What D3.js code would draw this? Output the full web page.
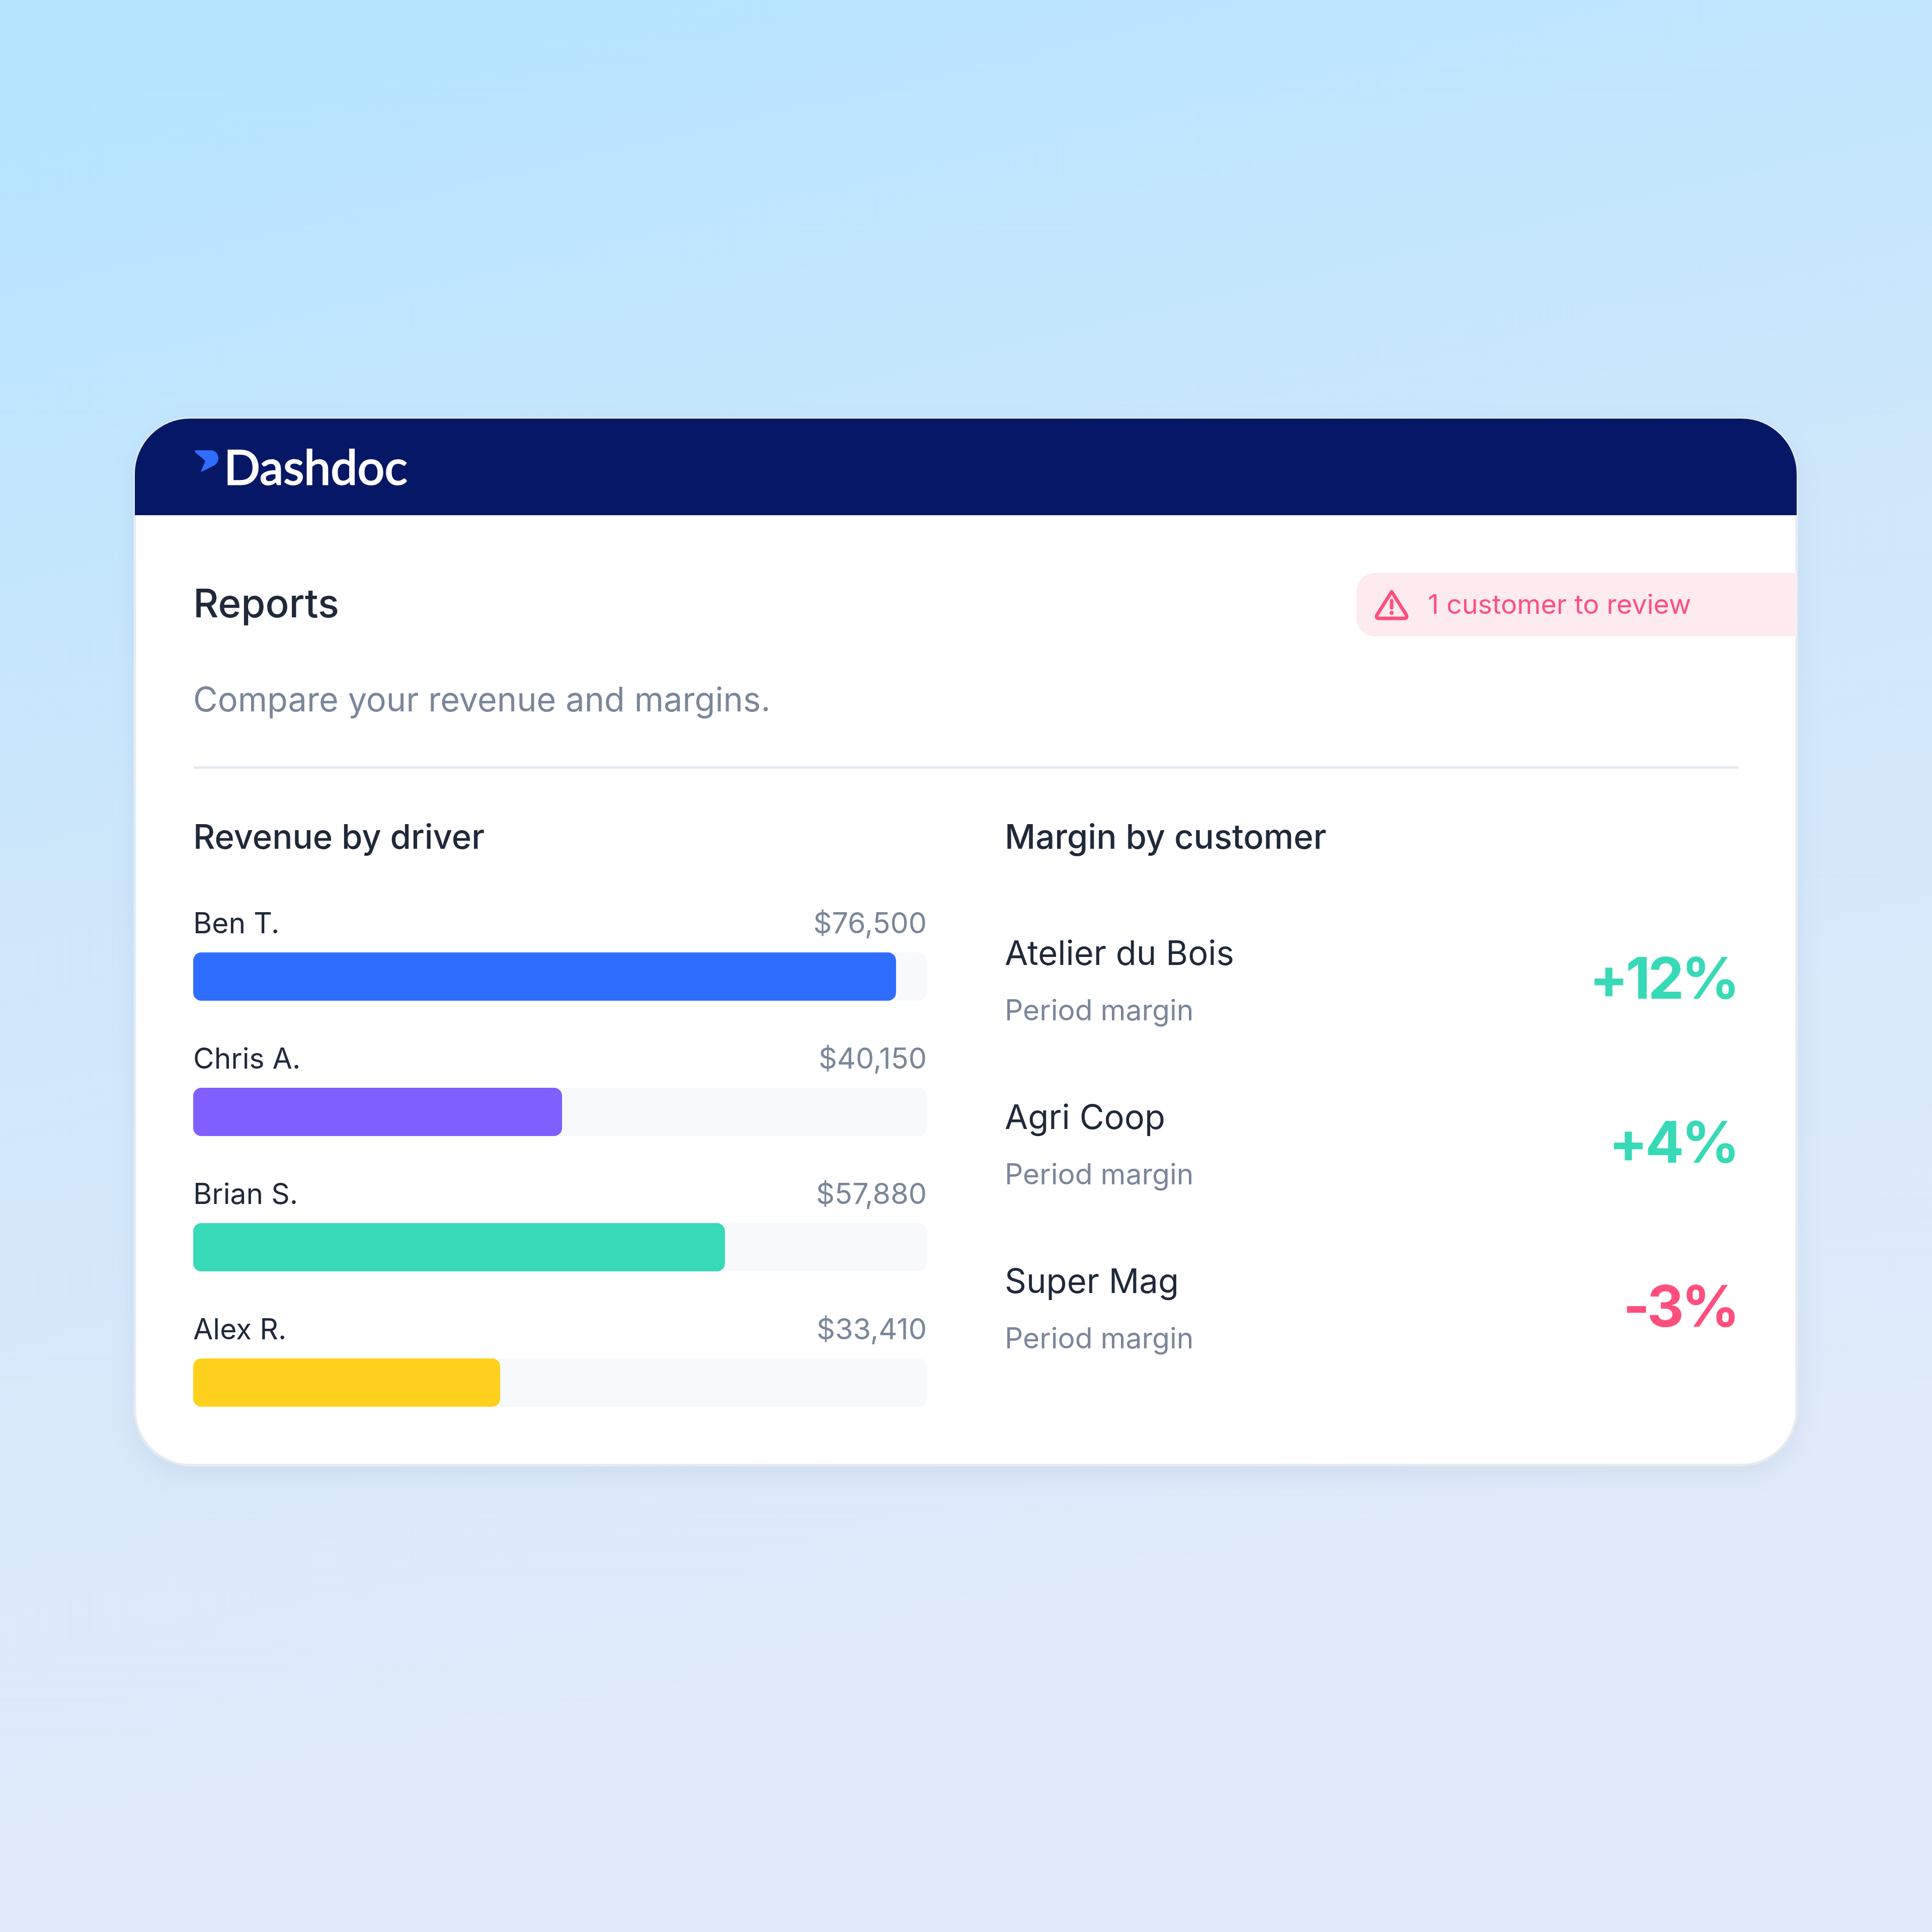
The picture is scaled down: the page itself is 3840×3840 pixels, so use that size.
<!DOCTYPE html>
<html lang="en">
  <head>
    <meta charset="UTF-8">
    <title>Dashdoc reports</title>
    <script src="https://d3js.org/d3.v7.min.js"></script>
    <style>
      html, body { margin: 0; padding: 0; background: #e1e9f8; }
      svg { display: block; }
      text { font-family: Inter, "Noto Sans", sans-serif; }
    </style>
  </head>
  <body>

<script>
  const drivers = ["Ben T.", "Chris A.", "Brian S.", "Alex R."];
  const revenue = [76500, 40150, 57880, 33410];
  const driverColors = ["#2f6dff", "#7f5fff", "#38d9b7", "#ffd01c"];
  const revenueMax = 79900;

  const customers = ["Atelier du Bois", "Agri Coop", "Super Mag"];
  const margins = [12, 4, -3];

  const w = 3840;
  const h = 3840;
  const card = { x: 268, y: 832, w: 3303, h: 2080, r: 110 };
  const ink = "#20293a";
  const grey = "#7a8699";
  const green = "#38d9b7";
  const pink = "#ff4f7e";

  const svg = d3.select("body")
                .append("svg")
                .attr("width", w)
                .attr("height", h);

  const defs = svg.append("defs");

  const bg = defs.append("linearGradient")
                 .attr("id", "bg")
                 .attr("gradientUnits", "userSpaceOnUse")
                 .attr("x1", 500).attr("y1", 0)
                 .attr("x2", 1300).attr("y2", 3400);
  bg.append("stop").attr("offset", 0).attr("stop-color", "#b4e4ff");
  bg.append("stop").attr("offset", 0.45).attr("stop-color", "#cde7fb");
  bg.append("stop").attr("offset", 1).attr("stop-color", "#e0eaf8");

  const shadow = defs.append("filter")
                     .attr("id", "shadow")
                     .attr("x", "-5%").attr("y", "-5%")
                     .attr("width", "110%").attr("height", "112%");
  shadow.append("feDropShadow")
        .attr("dx", 0).attr("dy", 16)
        .attr("stdDeviation", 22)
        .attr("flood-color", "#7f97c0")
        .attr("flood-opacity", 0.16);

  defs.append("clipPath")
      .attr("id", "cardClip")
      .append("rect")
      .attr("x", card.x).attr("y", card.y)
      .attr("width", card.w).attr("height", card.h)
      .attr("rx", card.r);

  svg.append("rect")
     .attr("width", w).attr("height", h)
     .attr("fill", "url(#bg)");

  svg.append("rect")
     .attr("x", card.x).attr("y", card.y)
     .attr("width", card.w).attr("height", card.h)
     .attr("rx", card.r)
     .attr("fill", "#fff")
     .attr("stroke", "#e6ebf2")
     .attr("stroke-width", 5)
     .attr("filter", "url(#shadow)");

  const inner = svg.append("g").attr("clip-path", "url(#cardClip)");

  // header
  inner.append("rect")
       .attr("x", card.x).attr("y", card.y)
       .attr("width", card.w).attr("height", 192)
       .attr("fill", "#061865");

  svg.append("path")
     .attr("d", "M389 895 L419 895 C429 895 434 903 434 911 C434 918 430 922 426 925 L402 937 C400 938 399 937 400 935 L408 916 L388 899 C386 897 387 895 389 895 Z")
     .attr("fill", "#2f6dff");

  svg.append("text")
     .attr("x", 445).attr("y", 963)
     .attr("font-size", 95)
     .attr("fill", "#fff")
     .attr("stroke", "#fff")
     .attr("stroke-width", 2.5)
     .style("font-family", "Lato, sans-serif")
     .text("Dashdoc");

  // title block
  svg.append("text")
     .attr("x", 384).attr("y", 1227)
     .attr("font-size", 78)
     .attr("font-weight", 500)
     .attr("fill", ink)
     .text("Reports");

  svg.append("text")
     .attr("x", 384).attr("y", 1414)
     .attr("font-size", 66.7)
     .attr("fill", grey)
     .text("Compare your revenue and margins.");

  // review badge
  inner.append("rect")
       .attr("x", 2696).attr("y", 1139)
       .attr("width", 960).attr("height", 126)
       .attr("rx", 36)
       .attr("fill", "#fdebf0");

  svg.append("path")
     .attr("d", "M2766 1176 L2795 1222 Q2798 1229 2791 1229 L2741 1229 Q2734 1229 2737 1222 Z")
     .attr("fill", "none")
     .attr("stroke", pink)
     .attr("stroke-width", 7)
     .attr("stroke-linejoin", "round");
  svg.append("line")
     .attr("x1", 2766).attr("x2", 2766)
     .attr("y1", 1194).attr("y2", 1208)
     .attr("stroke", pink)
     .attr("stroke-width", 7)
     .attr("stroke-linecap", "round");
  svg.append("circle")
     .attr("cx", 2766).attr("cy", 1218).attr("r", 4)
     .attr("fill", pink);

  svg.append("text")
     .attr("x", 2838).attr("y", 1220)
     .attr("font-size", 53.8)
     .attr("fill", pink)
     .text("1 customer to review");

  svg.append("line")
     .attr("x1", 385).attr("x2", 3456)
     .attr("y1", 1525.5).attr("y2", 1525.5)
     .attr("stroke", "#e4e9f0")
     .attr("stroke-width", 5);

  svg.append("text")
     .attr("x", 384).attr("y", 1687)
     .attr("font-size", 67)
     .attr("font-weight", 500)
     .attr("fill", ink)
     .text("Revenue by driver");

  svg.append("text")
     .attr("x", 1997).attr("y", 1687)
     .attr("font-size", 67)
     .attr("font-weight", 500)
     .attr("fill", ink)
     .text("Margin by customer");

  // revenue bars
  const xScale = d3.scaleLinear()
                   .domain([0, revenueMax])
                   .range([384, 1843]);

  const yScale = d3.scalePoint()
                   .domain(drivers)
                   .range([1893, 2700]);

  const barH = 96;
  const money = d3.format("$,");

  const rows = svg.selectAll("g.driver")
                  .data(drivers)
                  .enter()
                  .append("g")
                  .attr("class", "driver")
                  .attr("transform", (d) => `translate(0, ${yScale(d)})`);

  rows.append("rect")
      .attr("x", xScale(0))
      .attr("width", xScale(revenueMax) - xScale(0))
      .attr("height", barH)
      .attr("rx", 18)
      .attr("fill", "#f7f9fc");

  rows.append("rect")
      .attr("x", xScale(0))
      .attr("width", (d, i) => xScale(revenue[i]) - xScale(0))
      .attr("height", barH)
      .attr("rx", 16)
      .attr("fill", (d, i) => driverColors[i]);

  rows.append("text")
      .attr("x", xScale(0))
      .attr("y", -38)
      .attr("font-size", 57)
      .attr("fill", ink)
      .text((d) => d);

  rows.append("text")
      .attr("x", 1842)
      .attr("y", -38)
      .attr("text-anchor", "end")
      .attr("font-size", 57.5)
      .attr("fill", grey)
      .text((d, i) => money(revenue[i]));

  // margins
  const rowScale = d3.scalePoint()
                     .domain(customers)
                     .range([1917, 2569]);

  const custRows = svg.selectAll("g.customer")
                      .data(customers)
                      .enter()
                      .append("g")
                      .attr("class", "customer")
                      .attr("transform", (d) => `translate(0, ${rowScale(d)})`);

  custRows.append("text")
          .attr("x", 1997)
          .attr("y", 1)
          .attr("font-size", 67)
          .attr("fill", ink)
          .text((d) => d);

  custRows.append("text")
          .attr("x", 1997)
          .attr("y", 111)
          .attr("font-size", 57)
          .attr("fill", grey)
          .text("Period margin");

  custRows.append("text")
          .attr("x", 3453)
          .attr("y", 68)
          .attr("text-anchor", "end")
          .attr("font-size", 114)
          .attr("font-weight", 700)
          .attr("letter-spacing", -5)
          .attr("fill", (d, i) => margins[i] < 0 ? pink : green)
          .text((d, i) => (margins[i] > 0 ? "+" : "") + margins[i] + "%");
</script>

  </body>
</html>
